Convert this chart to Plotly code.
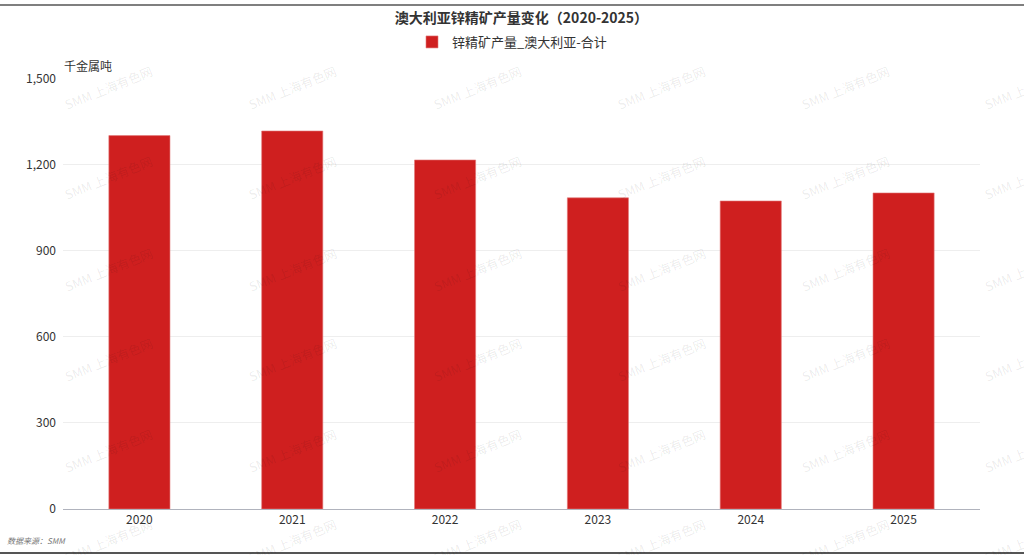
import plotly.graph_objects as go

years = ["2020", "2021", "2022", "2023", "2024", "2025"]
output = [1302, 1318, 1217, 1085, 1074, 1102]
y_ticks = [0, 300, 600, 900, 1200, 1500]

series_name = "锌精矿产量_澳大利亚-合计"
title_text = "澳大利亚锌精矿产量变化（2020-2025）"
unit_text = "千金属吨"
source_text = "数据来源：SMM"
watermark = "SMM 上海有色网"

W, H = 1024, 555
L, R, T, B = 63, 44, 75, 46
PW, PH = W - L - R, H - T - B

def px(x):
    return (x - L) / PW

def py(y):
    return (H - B - y) / PH

FONT = "Noto Sans CJK SC"

fig = go.Figure()
fig.add_trace(go.Bar(
    x=years, y=output, name=series_name,
    marker=dict(color="#cf1f1f", line=dict(color="#e27a7a", width=0.6)),
    width=0.4,
))

annotations = []
for cy in [84, 175, 267, 358, 450, 541]:
    for cx in [108, 292, 477, 661, 845, 1028]:
        annotations.append(dict(
            x=px(cx), y=py(cy), xref="paper", yref="paper",
            text=watermark, showarrow=False, textangle=-22,
            font=dict(family=FONT, size=12.5, color="rgba(0,0,0,0.085)"),
            xanchor="center", yanchor="middle",
        ))

annotations.append(dict(
    x=px(62), y=py(62), xref="paper", yref="paper", text=unit_text,
    showarrow=False, xanchor="left", yanchor="middle",
    font=dict(family=FONT, size=12, color="#333333"),
))
annotations.append(dict(
    x=px(5), y=py(541), xref="paper", yref="paper",
    text="<i>" + source_text + "</i>",
    showarrow=False, xanchor="left", yanchor="middle",
    font=dict(family=FONT, size=8, color="#777777"),
))

shapes = [
    dict(type="line", xref="paper", yref="paper", x0=px(0), x1=px(W), y0=py(0.5), y1=py(0.5),
         line=dict(color="#555555", width=1.5)),
    dict(type="line", xref="paper", yref="paper", x0=px(0), x1=px(W), y0=py(553.5), y1=py(553.5),
         line=dict(color="#555555", width=2)),
]

fig.update_layout(
    width=W, height=H,
    margin=dict(l=L, r=R, t=T, b=B),
    paper_bgcolor="white", plot_bgcolor="white",
    title=dict(text="<b>" + title_text + "</b>", x=0.5, xref="paper", xanchor="center",
               y=1 - 18 / H, yanchor="middle",
               font=dict(family=FONT, size=14, color="#333333")),
    legend=dict(orientation="h", x=0.5, xref="container", xanchor="center",
                y=1 - 42 / H, yref="container", yanchor="middle",
                font=dict(family=FONT, size=13, color="#333333")),
    showlegend=True,
    bargap=0.6,
    xaxis=dict(showline=True, linecolor="#b0b3bd", linewidth=1, ticks="",
               showgrid=False, tickfont=dict(family=FONT, size=12, color="#333333")),
    yaxis=dict(range=[0, 1500], tickvals=y_ticks, tickformat=",", showgrid=True,
               gridcolor="#eeeeee", gridwidth=1, zeroline=False, showline=False,
               tickfont=dict(family=FONT, size=12, color="#333333"), ticklabelstandoff=6),
    annotations=annotations,
    shapes=shapes,
)

fig.write_html("out.html", config={"displayModeBar": False},
               post_script="document.body.style.margin='0';document.body.style.overflow='hidden';")
